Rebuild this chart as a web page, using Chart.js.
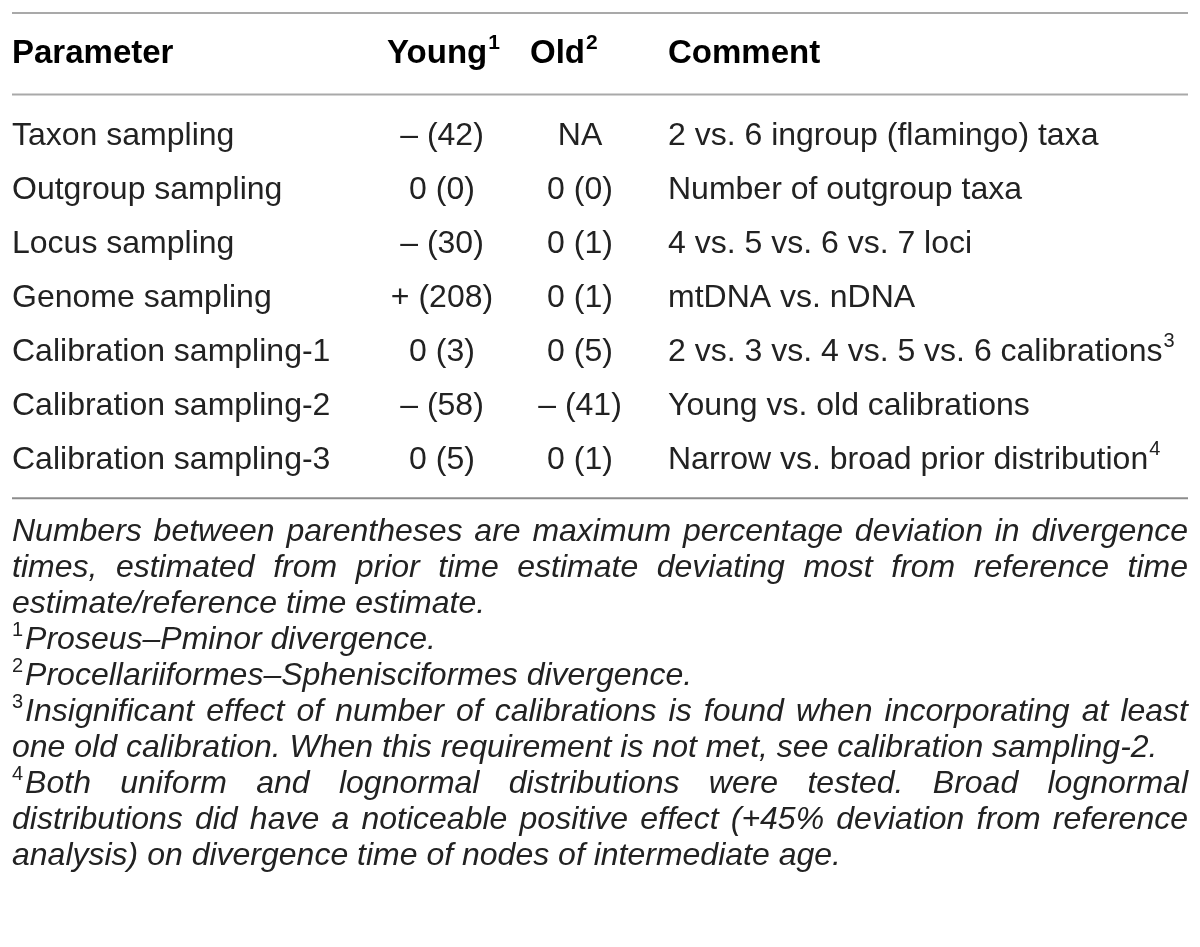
<!DOCTYPE html>
<html>
<head>
<meta charset="utf-8">
<script src="https://cdn.jsdelivr.net/npm/chart.js@4.4.1/dist/chart.umd.min.js"></script>
<style>
html, body { margin: 0; padding: 0; background: #fff; }
#wrap { width: 1200px; height: 947px; position: relative; }
</style>
</head>
<body>
<div id="wrap"><canvas id="myTable"></canvas></div>
<script>
// table content
var headers = ["Parameter", "Young", "Old", "Comment"];
var headerSup = ["", "1", "2", ""];
var parameters = [
  "Taxon sampling",
  "Outgroup sampling",
  "Locus sampling",
  "Genome sampling",
  "Calibration sampling-1",
  "Calibration sampling-2",
  "Calibration sampling-3",
];
var youngValues = ["– (42)", "0 (0)", "– (30)", "+ (208)", "0 (3)", "– (58)", "0 (5)"];
var oldValues = ["NA", "0 (0)", "0 (1)", "0 (1)", "0 (5)", "– (41)", "0 (1)"];
var comments = [
  "2 vs. 6 ingroup (flamingo) taxa",
  "Number of outgroup taxa",
  "4 vs. 5 vs. 6 vs. 7 loci",
  "mtDNA vs. nDNA",
  "2 vs. 3 vs. 4 vs. 5 vs. 6 calibrations",
  "Young vs. old calibrations",
  "Narrow vs. broad prior distribution",
];
var commentSup = ["", "", "", "", "3", "", "4"];
var notes = [
  "Numbers between parentheses are maximum percentage deviation in divergence",
  "times, estimated from prior time estimate deviating most from reference time",
  "estimate/reference time estimate.",
  "Proseus–Pminor divergence.",
  "Procellariiformes–Sphenisciformes divergence.",
  "Insignificant effect of number of calibrations is found when incorporating at least",
  "one old calibration. When this requirement is not met, see calibration sampling-2.",
  "Both uniform and lognormal distributions were tested. Broad lognormal",
  "distributions did have a noticeable positive effect (+45% deviation from reference",
  "analysis) on divergence time of nodes of intermediate age.",
];
var noteSup = ["", "", "", "1", "2", "3", "", "4", "", ""];
var noteJustify = [true, true, false, false, false, true, false, true, true, false];

// layout
var LEFT = 12, RIGHT = 1188;
var ROW_PX = 54, FIRST_ROW_PX = 136;
var NOTE_PX = 36, FIRST_NOTE_PX = 532;
var FONT = '"Liberation Sans", Arial, sans-serif';

function rule(y, color) {
  return {
    type: "line", data: [{ x: LEFT, y: y }, { x: RIGHT, y: y }],
    borderColor: color, borderWidth: 2, pointRadius: 0, showLine: true,
  };
}
function textSet(list, sup, xs, y, align, font, color, axis, justify) {
  return {
    data: list.map(function (_, i) {
      return { x: Array.isArray(xs) ? xs[i] : xs, y: Array.isArray(y) ? y[i] : y + i };
    }),
    yAxisID: axis || "y", pointRadius: 0, showLine: false,
    texts: list, sups: sup, align: align, font: font, color: color, justify: justify,
  };
}

// draws the cell texts at the points the scales placed
var tableText = {
  id: "tableText",
  afterDatasetsDraw: function (chart) {
    var ctx = chart.ctx;
    ctx.save();
    ctx.textBaseline = "middle";
    chart.data.datasets.forEach(function (ds, di) {
      if (!ds.texts) return;
      var meta = chart.getDatasetMeta(di);
      ctx.fillStyle = ds.color;
      meta.data.forEach(function (pt, i) {
        var txt = ds.texts[i], sup = ds.sups ? ds.sups[i] : "";
        var x = pt.x, y = pt.y;
        ctx.font = ds.font;
        var w = ctx.measureText(txt).width;
        var supFont = (ds.font.indexOf("bold") >= 0 ? "bold 21px " : "20px ") + FONT;
        var leading = ds.align === "note" && sup;
        if (leading) {
          ctx.font = supFont;
          ctx.textAlign = "left";
          ctx.fillText(sup, x, y - 10);
          x += ctx.measureText(sup).width + 2;
          ctx.font = ds.font;
        }
        if (ds.align === "center") x -= w / 2;
        ctx.textAlign = "left";
        if (ds.justify && ds.justify[i]) {
          var words = txt.split(" ");
          var total = 0;
          words.forEach(function (wd) { total += ctx.measureText(wd).width; });
          var gap = (RIGHT - x - total) / (words.length - 1);
          words.forEach(function (wd) {
            ctx.fillText(wd, x, y);
            x += ctx.measureText(wd).width + gap;
          });
        } else {
          ctx.fillText(txt, x, y);
          if (sup && !leading) {
            ctx.font = supFont;
            ctx.fillText(sup, x + w + 1, y - 11);
          }
        }
      });
    });
    ctx.restore();
  },
};

var bodyFont = "32px " + FONT;
var headFont = "bold 33px " + FONT;
var noteFont = "italic 32px " + FONT;

var ctx = document.getElementById("myTable").getContext("2d");
var myTable = new Chart(ctx, {
  type: "scatter",
  data: {
    datasets: [
      rule(-1.28, "#a9a9a9"),
      rule(0.23, "#a9a9a9"),
      rule(7.71, "#8c8c8c"),
      textSet(headers, headerSup, [LEFT, 387, 530, 668], [-0.52, -0.52, -0.52, -0.52], "left", headFont, "#000"),
      textSet(parameters, null, LEFT, 1, "left", bodyFont, "#222"),
      textSet(youngValues, null, 442, 1, "center", bodyFont, "#222"),
      textSet(oldValues, null, 580, 1, "center", bodyFont, "#222"),
      textSet(comments, commentSup, 668, 1, "left", bodyFont, "#222"),
      textSet(notes, noteSup, LEFT, 0, "note", noteFont, "#222", "notes", noteJustify),
    ],
  },
  options: {
    responsive: true,
    maintainAspectRatio: false,
    animation: false,
    events: [],
    layout: { padding: 0 },
    plugins: { legend: { display: false }, tooltip: { enabled: false } },
    scales: {
      x: { type: "linear", display: false, min: 0, max: 1200 },
      y: {
        type: "linear", display: false, reverse: true,
        min: 1 - FIRST_ROW_PX / ROW_PX, max: 1 - FIRST_ROW_PX / ROW_PX + 947 / ROW_PX,
      },
      notes: {
        type: "linear", display: false, reverse: true,
        min: -FIRST_NOTE_PX / NOTE_PX, max: -FIRST_NOTE_PX / NOTE_PX + 947 / NOTE_PX,
      },
    },
  },
  plugins: [tableText],
});
</script>
</body>
</html>
